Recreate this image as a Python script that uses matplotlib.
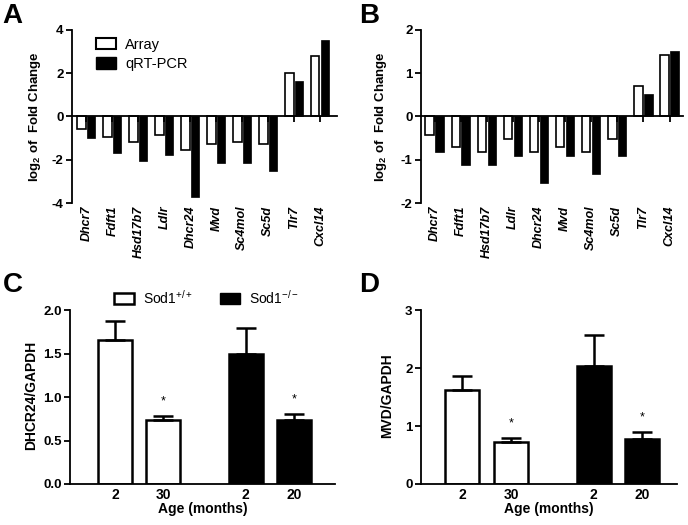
import matplotlib
matplotlib.use("Agg")
import matplotlib.pyplot as plt
from matplotlib.patches import Patch
import numpy as np

plt.rcParams['font.family'] = ['Liberation Sans', 'DejaVu Sans']
plt.rcParams['axes.unicode_minus'] = False
plt.rcParams['mathtext.fontset'] = 'custom'
plt.rcParams['mathtext.rm'] = 'Liberation Sans'
plt.rcParams['mathtext.bf'] = 'Liberation Sans:bold'
plt.rcParams['mathtext.it'] = 'Liberation Sans:italic'

# Panels A/B: log2 fold change, array vs qRT-PCR
genes = ['Dhcr7', 'Fdft1', 'Hsd17b7', 'Ldlr', 'Dhcr24', 'Mvd', 'Sc4mol', 'Sc5d', 'Tlr7', 'Cxcl14']
a_array = [-0.57, -0.97, -1.19, -0.86, -1.57, -1.26, -1.19, -1.26, 2.0, 2.82]
a_qpcr = [-0.99, -1.68, -2.08, -1.8, -3.7, -2.16, -2.16, -2.5, 1.62, 3.52]
b_array = [-0.42, -0.71, -0.82, -0.51, -0.82, -0.71, -0.82, -0.51, 0.71, 1.42]
b_qpcr = [-0.82, -1.13, -1.13, -0.92, -1.53, -0.92, -1.32, -0.92, 0.52, 1.52]

# Panels C/D: ratio to GAPDH by age and genotype
ages = ['2', '30', '2', '20']
genotype = ['wt', 'wt', 'ko', 'ko']
c_mean = [1.65, 0.73, 1.50, 0.73]
c_err = [0.22, 0.05, 0.29, 0.07]
d_mean = [1.62, 0.73, 2.03, 0.78]
d_err = [0.24, 0.06, 0.54, 0.11]
signif = [False, True, False, True]

fig = plt.figure(figsize=(6.88, 5.25), dpi=100)

LW = 1.3


def style_axes(ax):
    for s in ['top', 'right']:
        ax.spines[s].set_visible(False)
    for s in ['left', 'bottom']:
        ax.spines[s].set_linewidth(LW)
    ax.tick_params(axis='y', direction='out', length=4, width=LW, labelsize=9.5, pad=2)
    for lab in ax.get_yticklabels():
        lab.set_fontweight('bold')


def fold_panel(rect, arr, qpcr, ylim, yticks, xlim, ylab_x, legend):
    ax = fig.add_axes(rect)
    x = np.arange(len(genes))
    w = 0.32
    ax.bar(x - 0.19, arr, w, color='white', edgecolor='black', linewidth=1.2, label='Array')
    ax.bar(x + 0.19, qpcr, w, color='black', edgecolor='black', linewidth=0.5, label='qRT-PCR')
    ax.set_xlim(*xlim)
    ax.set_ylim(*ylim)
    ax.set_yticks(yticks)
    ax.spines['bottom'].set_position(('data', 0))
    ax.set_xticks(x)
    ax.tick_params(axis='x', direction='out', length=4, width=LW, labelbottom=False)
    style_axes(ax)
    sec = ax.secondary_xaxis(0)
    sec.set_xticks(x)
    sec.set_xticklabels(genes, rotation=90, fontsize=9, fontweight='bold', style='italic')
    sec.spines['bottom'].set_visible(False)
    sec.tick_params(length=0, pad=2)
    ax.set_ylabel(r'log$_\mathbf{2}$ of  Fold Change', fontsize=9.5, fontweight='bold')
    ax.yaxis.set_label_coords(ylab_x, 0.5)
    if legend:
        handles = [Patch(facecolor='white', edgecolor='black', linewidth=1.5),
                   Patch(facecolor='black', edgecolor='black')]
        ax.legend(handles, ['Array', 'qRT-PCR'], loc='upper left', bbox_to_anchor=(0.04, 1.03),
                  frameon=False, fontsize=10.5, handlelength=1.4, handleheight=0.8,
                  handletextpad=0.6, labelspacing=0.35)
    return ax


def ratio_panel(rect, mean, err, ylim, yticks, fmt, ylabel, xlim, ylab_x, legend):
    ax = fig.add_axes(rect)
    pos = np.array([0, 1, 2.7, 3.7])
    colors = ['white' if g == 'wt' else 'black' for g in genotype]
    ax.bar(pos, mean, 0.7, color=colors, edgecolor='black', linewidth=1.8)
    ax.errorbar(pos, mean, yerr=[np.zeros(len(mean)), err], fmt='none', ecolor='black',
                elinewidth=1.8, capsize=7, capthick=1.8)
    for p, m, e, s in zip(pos, mean, err, signif):
        if s:
            ax.text(p, m + e + 0.05 * ylim[1], '*', ha='center', va='bottom', fontsize=9)
    ax.set_xlim(*xlim)
    ax.set_ylim(*ylim)
    ax.set_yticks(yticks)
    ax.set_yticklabels([fmt.format(t) for t in yticks])
    ax.set_xticks(pos)
    ax.set_xticklabels(ages, fontsize=10, fontweight='bold')
    ax.tick_params(axis='x', length=0, pad=3)
    style_axes(ax)
    ax.set_ylabel(ylabel, fontsize=10, fontweight='bold')
    ax.yaxis.set_label_coords(ylab_x, 0.51)
    ax.set_xlabel('Age (months)', fontsize=10, fontweight='bold', labelpad=0)
    if legend:
        handles = [Patch(facecolor='white', edgecolor='black', linewidth=1.8),
                   Patch(facecolor='black', edgecolor='black')]
        ax.legend(handles, [r'Sod1$^{+/+}$', r'Sod1$^{\mathregular{-/-}}$'], loc='lower left',
                  bbox_to_anchor=(0.12, 0.95), ncol=2, frameon=False, fontsize=10,
                  handlelength=1.45, handleheight=0.85, handletextpad=0.6, columnspacing=2.0)
    return ax


fold_panel([0.1047, 0.6133, 0.385, 0.3296], a_array, a_qpcr, (-4, 4), [-4, -2, 0, 2, 4],
           (-0.55, 9.64), -0.11, True)
fold_panel([0.6119, 0.6133, 0.381, 0.3296], b_array, b_qpcr, (-2, 2), [-2, -1, 0, 1, 2],
           (-0.52, 9.52), -0.122, False)
ratio_panel([0.1017, 0.0781, 0.385, 0.3314], c_mean, c_err, (0, 2), [0, 0.5, 1.0, 1.5, 2.0],
            '{:.1f}', 'DHCR24/GAPDH', (-0.93, 4.54), -0.12, True)
ratio_panel([0.6119, 0.0781, 0.372, 0.3314], d_mean, d_err, (0, 3), [0, 1, 2, 3],
            '{:.0f}', 'MVD/GAPDH', (-0.85, 4.41), -0.105, False)

for lbl, x, y in [('A', 0.004, 0.995), ('B', 0.522, 0.995), ('C', 0.004, 0.481), ('D', 0.522, 0.481)]:
    fig.text(x, y, lbl, fontsize=20, fontweight='bold', ha='left', va='top')

fig.savefig('out.png', dpi=100)
